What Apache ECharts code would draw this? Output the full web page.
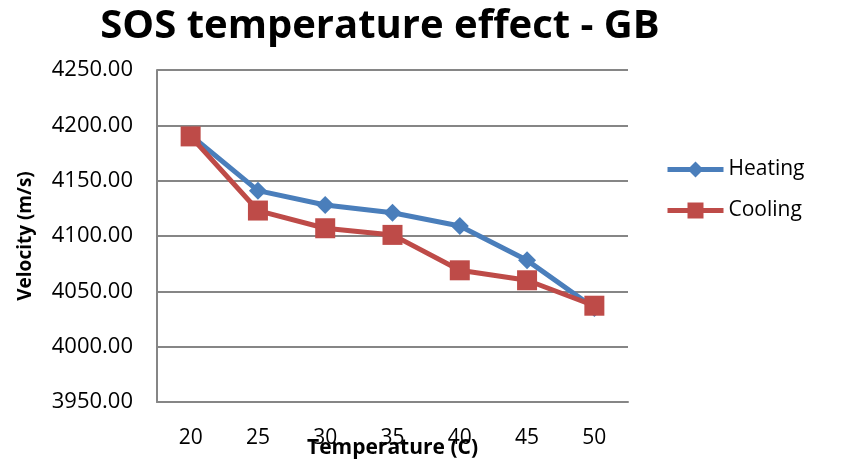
<!DOCTYPE html>
<html><head><meta charset="utf-8">
<script src="https://cdn.jsdelivr.net/npm/echarts@6/dist/echarts.min.js"></script>
<style>html,body{margin:0;padding:0;background:#fff}#c{width:866px;height:463px}</style>
</head><body><div id="c"></div>
<script>
const categories = ['20','25','30','35','40','45','50'];
const heating = [4191, 4141, 4128, 4121, 4109, 4078, 4035];
const cooling = [4190, 4123, 4107, 4101, 4069, 4060, 4037];
const FONT = '"Open Sans", sans-serif';
const chart = echarts.init(document.getElementById('c'));
chart.setOption({
  animation: false,
  title: {text: 'SOS temperature effect - GB', left: 375, textAlign: 'center', top: 2,
    textStyle: {fontFamily: FONT, fontWeight: 'bold', fontSize: 40, color: '#000'}},
  grid: {left: 157, right: 238, top: 70, bottom: 61, outerBoundsMode: 'none', containLabel: false},
  legend: {orient: 'vertical', left: 660, top: 154, itemGap: 20, itemWidth: 56, itemHeight: 20,
    lineStyle: {width: 5},
    textStyle: {fontFamily: FONT, fontSize: 21, color: '#000'},
    data: ['Heating', 'Cooling']},
  xAxis: {type: 'category', data: categories, boundaryGap: true,
    axisLine: {lineStyle: {color: '#868686', width: 2}}, axisTick: {show: false},
    axisLabel: {fontFamily: FONT, fontSize: 21, color: '#000', margin: 26},
    name: 'Temperature (C)', nameLocation: 'middle', nameGap: 36, nameMoveOverlap: false,
    nameTextStyle: {fontFamily: FONT, fontSize: 21, fontWeight: 'bold', color: '#000'}},
  yAxis: {type: 'value', min: 3950, max: 4250, interval: 50,
    axisLine: {show: true, lineStyle: {color: '#868686', width: 2}}, axisTick: {show: false},
    splitLine: {lineStyle: {color: '#868686', width: 2}},
    axisLabel: {fontFamily: FONT, fontSize: 22, color: '#000', margin: 24, formatter: v => v.toFixed(2)},
    name: 'Velocity (m/s)', nameLocation: 'middle', nameGap: 122, nameMoveOverlap: false,
    nameTextStyle: {fontFamily: FONT, fontSize: 19, fontWeight: 'bold', color: '#000'}},
  series: [
    {name: 'Heating', type: 'line', data: heating, symbol: 'diamond', symbolSize: 18,
      lineStyle: {color: '#4A7EBB', width: 5}, itemStyle: {color: '#4A7EBB'}, z: 2},
    {name: 'Cooling', type: 'line', data: cooling, symbol: 'rect', symbolSize: 20,
      lineStyle: {color: '#BE4B48', width: 5}, itemStyle: {color: '#BE4B48'}, z: 3}
  ]
});
</script></body></html>
